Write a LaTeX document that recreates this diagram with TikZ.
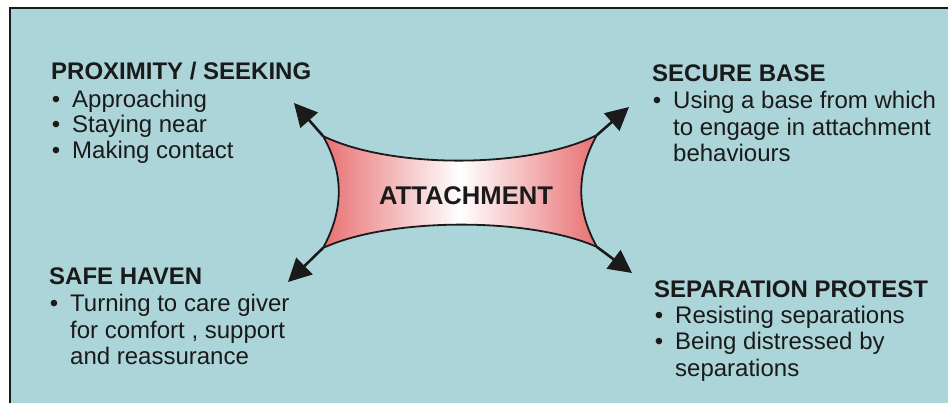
\documentclass[tikz,border=0pt]{standalone}
\usepackage{fontspec}
\setmainfont{Liberation Sans}
\usetikzlibrary{arrows.meta}
\definecolor{bgteal}{RGB}{172,213,217}
\definecolor{shapered}{RGB}{232,112,114}
\definecolor{ink}{RGB}{26,26,26}
\newcommand\bul{\llap{•\hspace{12pt}}}
\tikzset{
  head/.style={anchor=base west, inner sep=0pt, font=\fontsize{24}{28}\selectfont\bfseries, text=ink},
  item/.style={anchor=base west, inner sep=0pt, font=\fontsize{24}{28}\selectfont, text=ink},
  arr/.style={line width=2.6pt, draw=ink, -{Triangle[length=23pt,width=23pt]}},
}
\begin{document}
\begin{tikzpicture}[x=1pt,y=-1pt]
\useasboundingbox (0,0) rectangle (948,403);
\fill[bgteal] (10,8) rectangle (948,403);
\draw[line width=2.5pt, ink] (10,403) -- (10,8) -- (948,8);

% corners of the central shape and arrow ends
\coordinate (tl) at (323,136);
\coordinate (tr) at (597,135);
\coordinate (br) at (597,247);
\coordinate (bl) at (323,248);
\coordinate (etl) at (294,103);
\coordinate (etr) at (629,107);
\coordinate (ebl) at (288,282);
\coordinate (ebr) at (632,273);

\draw[arr] (tl) -- (etl);
\draw[arr] (tr) -- (etr);
\draw[arr] (bl) -- (ebl);
\draw[arr] (br) -- (ebr);

\shadedraw[left color=shapered, right color=shapered, middle color=white, draw=ink, line width=1.8pt, line join=miter]
  (tl) .. controls (390,169) and (530,169) .. (tr)
       .. controls (576,172) and (576,210) .. (br)
       .. controls (530,217) and (390,217) .. (bl)
       .. controls (344,210) and (344,173) .. cycle;

\node[anchor=base, inner sep=0pt, font=\fontsize{25.6}{30}\selectfont\bfseries, text=ink] (att) at (466,205) {ATTACHMENT};

% Proximity / seeking
\node[head] (h1) at (51,80) {PROXIMITY / SEEKING};
\node[item] (a1) at (72,108) {\bul Approaching};
\node[item] (a2) at (72,133) {\bul Staying near};
\node[item] (a3) at (72,159) {\bul Making contact};

% Secure base
\node[head] (h2) at (652,82) {SECURE BASE};
\node[item] (b1) at (673,109) {\bul Using a base from which};
\node[item] (b2) at (673,136) {to engage in attachment};
\node[item] (b3) at (673,162) {behaviours};

% Safe haven
\node[head] (h3) at (49,285) {SAFE HAVEN};
\node[item] (c1) at (70,312) {\bul Turning to care giver};
\node[item] (c2) at (70,338) {for comfort , support};
\node[item] (c3) at (70,365) {and reassurance};

% Separation protest
\node[head] (h4) at (654,298) {SEPARATION PROTEST};
\node[item] (d1) at (675,324) {\bul Resisting separations};
\node[item] (d2) at (675,350) {\bul Being distressed by};
\node[item] (d3) at (675,376) {separations};
\end{tikzpicture}
\end{document}
